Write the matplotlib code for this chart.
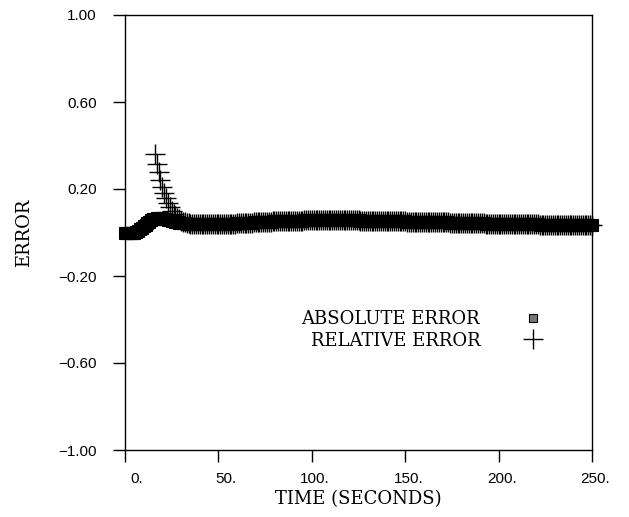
import numpy as np
import matplotlib.pyplot as plt
from matplotlib.transforms import ScaledTranslation

# time in seconds, one sample per second
time = np.arange(0, 251)

# absolute error (t = 0 .. 250)
abs_error = (
    [0.000] * 6
    + [0.003, 0.008, 0.014, 0.021, 0.028, 0.036, 0.043, 0.050, 0.056, 0.060, 0.063, 0.065, 0.066, 0.066]
    + [0.065, 0.063, 0.061, 0.058, 0.056, 0.053, 0.051, 0.049, 0.047, 0.045, 0.044, 0.043, 0.042, 0.041, 0.040]
    + [0.039, 0.039, 0.038, 0.038, 0.038, 0.037, 0.037, 0.037, 0.037, 0.037, 0.037, 0.037, 0.037, 0.038, 0.038]
    + [0.038, 0.038, 0.039, 0.039, 0.039, 0.040, 0.040, 0.040, 0.041, 0.041, 0.042, 0.042, 0.042, 0.043, 0.043]
    + [0.044, 0.044, 0.045, 0.045, 0.046, 0.046, 0.047, 0.047, 0.048, 0.048, 0.049, 0.049, 0.050, 0.050, 0.051]
    + [0.051, 0.052, 0.052, 0.052, 0.053, 0.053, 0.053, 0.054, 0.054, 0.054, 0.054, 0.055, 0.055, 0.055, 0.055]
    + [0.055, 0.056, 0.056, 0.056, 0.056, 0.056, 0.056, 0.056, 0.056, 0.056, 0.057, 0.057, 0.057, 0.057, 0.057]
    + [0.057, 0.057, 0.057, 0.057, 0.057, 0.057, 0.057, 0.056, 0.056, 0.056, 0.056, 0.056, 0.056, 0.056, 0.056]
    + [0.056, 0.055, 0.055, 0.055, 0.055, 0.055, 0.055, 0.054, 0.054, 0.054, 0.054, 0.054, 0.053, 0.053, 0.053]
    + [0.053, 0.053, 0.052, 0.052, 0.052, 0.052, 0.052, 0.051, 0.051, 0.051, 0.051, 0.050, 0.050, 0.050, 0.050]
    + [0.050, 0.049, 0.049, 0.049, 0.049, 0.048, 0.048, 0.048, 0.048, 0.048, 0.047, 0.047, 0.047, 0.047, 0.046]
    + [0.046, 0.046, 0.046, 0.046, 0.045, 0.045, 0.045, 0.045, 0.044, 0.044, 0.044, 0.044, 0.044, 0.043, 0.043]
    + [0.043, 0.043, 0.043, 0.042, 0.042, 0.042, 0.042, 0.042, 0.041, 0.041, 0.041, 0.041, 0.041, 0.040, 0.040]
    + [0.040, 0.040, 0.040, 0.040, 0.039, 0.039, 0.039, 0.039, 0.039, 0.039, 0.038, 0.038, 0.038, 0.038, 0.038]
    + [0.038, 0.037, 0.037, 0.037, 0.037, 0.037, 0.037, 0.036, 0.036, 0.036, 0.036, 0.036, 0.036, 0.036, 0.035]
    + [0.035, 0.035, 0.035, 0.035, 0.035, 0.035, 0.035, 0.034, 0.034, 0.034, 0.034, 0.034, 0.034, 0.034, 0.034]
    + [0.034, 0.033, 0.033, 0.033, 0.033, 0.033]
)

# relative error starts at t = 16; after t = 35 it sits on the absolute error curve
rel_start = 16
rel_early = [0.360, 0.315, 0.277, 0.240, 0.210, 0.182, 0.158, 0.136, 0.117, 0.100,
             0.087, 0.076, 0.067, 0.060, 0.054, 0.050, 0.047, 0.044, 0.042]
rel_error = rel_early + abs_error[rel_start + len(rel_early):]
rel_time = time[rel_start:]

x_ticks = [0, 50, 100, 150, 200, 250]
x_labels = ['0.', '50.', '100.', '150.', '200.', '250.']
y_ticks = [-1.0, -0.6, -0.2, 0.2, 0.6, 1.0]
y_labels = ['\u22121.00', '\u22120.60', '\u22120.20', '0.20', '0.60', '1.00']

serif = 'DejaVu Serif'
sans = 'Liberation Sans'

fig = plt.figure(figsize=(6.29, 5.17), dpi=100)
ax = fig.add_axes([125 / 629, 67 / 517, 467 / 629, 435 / 517])

ax.plot(time, abs_error, linestyle='none', marker='s', markersize=8.5,
        markerfacecolor='black', markeredgecolor='black', markeredgewidth=0.8,
        clip_on=False, label='ABSOLUTE ERROR')
ax.plot(rel_time, rel_error, linestyle='none', marker='+', markersize=14.5,
        markeredgewidth=1.0, color='black', clip_on=False, label='RELATIVE ERROR')

ax.set_xlim(0, 250)
ax.set_ylim(-1, 1)
ax.set_xticks(x_ticks)
ax.set_xticklabels(x_labels, fontfamily=sans, fontsize=11, ha='right')
ax.set_yticks(y_ticks)
ax.set_yticklabels(y_labels, fontfamily=sans, fontsize=11)
ax.tick_params(axis='both', direction='out', length=8.5, width=1, color='black')
ax.tick_params(axis='x', pad=7)
ax.tick_params(axis='y', pad=12)

# x labels end a little right of their ticks
for lbl in ax.get_xticklabels():
    lbl.set_transform(lbl.get_transform() + ScaledTranslation(18 / 100, 0, fig.dpi_scale_trans))

for s in ax.spines.values():
    s.set_linewidth(1)

ax.set_xlabel('TIME (SECONDS)', fontfamily=serif, fontsize=13, labelpad=3)
ax.set_ylabel('ERROR', fontfamily=serif, fontsize=13, labelpad=18)

leg = ax.legend(loc='upper right', bbox_to_anchor=(547 / 629, (517 - 310) / 517),
                bbox_transform=fig.transFigure, frameon=False, markerfirst=False,
                numpoints=1, handlelength=1.5, handletextpad=2.2, labelspacing=0.2,
                borderpad=0, borderaxespad=0,
                prop={'family': serif, 'size': 13})
leg.legend_handles[0].set_markerfacecolor('#777777')
leg.legend_handles[0].set_markersize(6)

fig.savefig('out.png', dpi=100)
